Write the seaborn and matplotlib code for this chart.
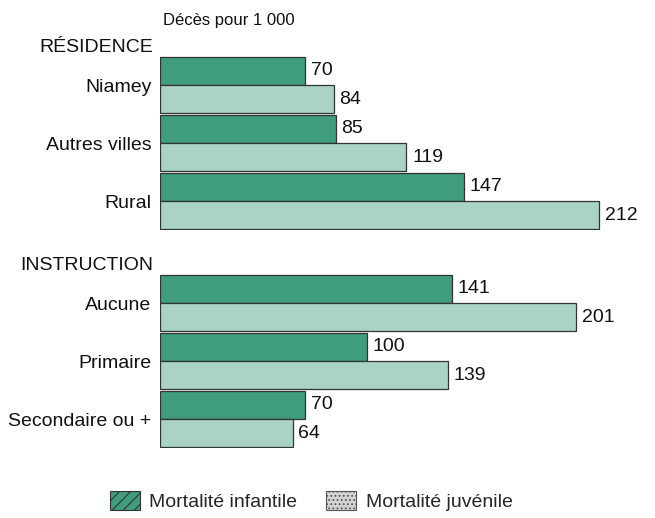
import matplotlib
matplotlib.use("Agg")
import matplotlib.pyplot as plt
from matplotlib.patches import Patch
import numpy as np
import pandas as pd
import seaborn as sns

# donnees (deces pour 1 000)
residence = ["Niamey", "Autres villes", "Rural"]
res_infantile = [70, 85, 147]
res_juvenile = [84, 119, 212]

instruction = ["Aucune", "Primaire", "Secondaire ou +"]
ins_infantile = [141, 100, 70]
ins_juvenile = [201, 139, 64]

series = ["Mortalité infantile", "Mortalité juvénile"]
couleurs = ["#3f9c7e", "#a9d3c4"]


def tableau(categories, infantile, juvenile):
    return pd.DataFrame({
        "Categorie": categories * 2,
        "Valeur": infantile + juvenile,
        "Type": [series[0]] * len(categories) + [series[1]] * len(categories),
    })


sns.set_style("white")
plt.rcParams["font.family"] = ["Liberation Sans", "DejaVu Sans"]
plt.rcParams["hatch.color"] = "#8cc4b0"
plt.rcParams["hatch.linewidth"] = 0.8

fig = plt.figure(figsize=(6.55, 5.18), dpi=100)
W, H = 655, 518
x0, x1 = 160, 640
echelle = 2.071  # px par unite
xmax = (x1 - x0) / echelle
fs = 14

groupes = [
    ("RÉSIDENCE", tableau(residence, res_infantile, res_juvenile), 56, 230),
    ("INSTRUCTION", tableau(instruction, ins_infantile, ins_juvenile), 274, 448),
]

for titre, df, top, bottom in groupes:
    ax = fig.add_axes([x0 / W, 1 - bottom / H, (x1 - x0) / W, (bottom - top) / H])
    sns.barplot(data=df, x="Valeur", y="Categorie", hue="Type", hue_order=series,
                palette=couleurs, saturation=1, orient="h", width=0.975, gap=0,
                edgecolor="#333333", linewidth=0.9, legend=False, ax=ax)
    for c in ax.containers:
        ax.bar_label(c, fmt="%d", padding=4, fontsize=fs, color="#111111")
    ax.set_xlim(0, xmax)
    ax.set_xlabel("")
    ax.set_ylabel("")
    ax.set_xticks([])
    ax.tick_params(axis="y", length=0, pad=6, labelsize=fs, labelcolor="#111111")
    sns.despine(ax=ax, left=True, bottom=True)
    fig.text(153 / W, 1 - (top - 8) / H, titre, ha="right", va="center",
             fontsize=fs, color="#111111")

fig.text(163 / W, 1 - 20 / H, "Décès pour 1 000", ha="left", va="center",
         fontsize=12, color="#111111")

handles = [
    Patch(facecolor=couleurs[0], edgecolor="#333333", hatch="///", linewidth=0.8),
    Patch(facecolor="#d4d4d4", edgecolor="#555555", hatch="....", linewidth=0.8),
]
fig.legend(handles, series, loc="center", bbox_to_anchor=(311 / W, 1 - 501 / H),
           ncol=2, frameon=False, fontsize=fs, handlelength=1.55, handleheight=1.13,
           columnspacing=1.45, handletextpad=0.5)

fig.savefig("out.png", dpi=100)
